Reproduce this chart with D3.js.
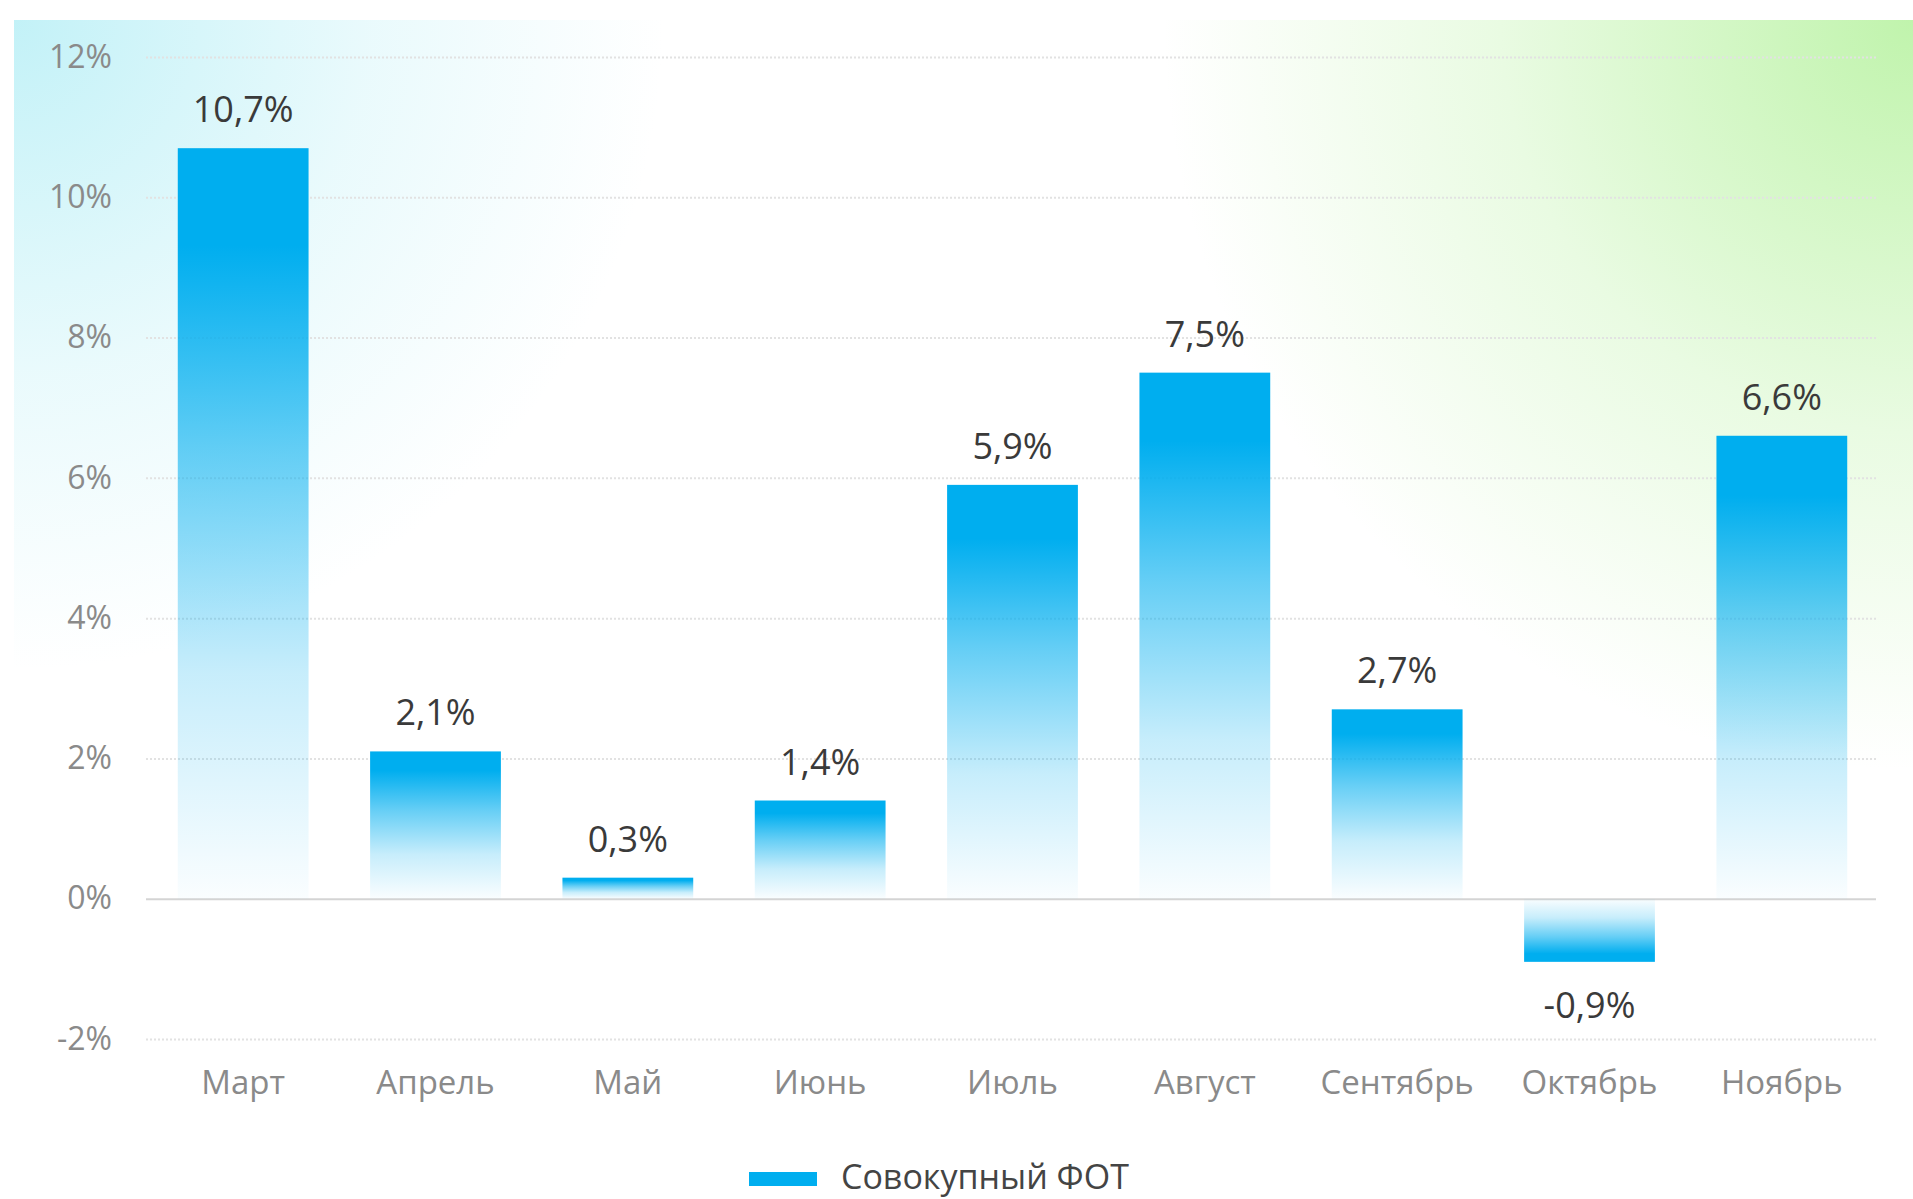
<!DOCTYPE html>
<html>
<head>
<meta charset="utf-8">
<script src="https://cdn.jsdelivr.net/npm/d3@7"></script>
<style>
  body { margin: 0; background: #fff; }
  svg { display: block; font-family: "Open Sans", sans-serif; }
</style>
</head>
<body>
<svg id="chart" width="1913" height="1199"></svg>
<script>
"use strict";

const months = ["Март", "Апрель", "Май", "Июнь", "Июль", "Август", "Сентябрь", "Октябрь", "Ноябрь"];
const values = [10.7, 2.1, 0.3, 1.4, 5.9, 7.5, 2.7, -0.9, 6.6];
const yTicks = [-2, 0, 2, 4, 6, 8, 10, 12];
const seriesName = "Совокупный ФОТ";

const blue = "#00aeef";
const svg = d3.select("#chart");
const defs = svg.append("defs");

// soft background tints (cyan top-left, green top-right)
function radial(id, cx, cy, r, color, op) {
  let g = defs.append("radialGradient").attr("id", id)
    .attr("gradientUnits", "userSpaceOnUse")
    .attr("cx", cx).attr("cy", cy).attr("r", r);
  g.append("stop").attr("offset", 0).attr("stop-color", color).attr("stop-opacity", op);
  g.append("stop").attr("offset", 0.55).attr("stop-color", color).attr("stop-opacity", op * 0.35);
  g.append("stop").attr("offset", 1).attr("stop-color", color).attr("stop-opacity", 0);
}
radial("bgCyan", 14, 20, 650, "#b8eff6", 0.85);
radial("bgGreen", 1913, 20, 750, "#bdf3a8", 0.95);

let bg = svg.append("g");
bg.append("rect").attr("x", 14).attr("y", 20).attr("width", 1899).attr("height", 1179)
  .attr("fill", "url(#bgCyan)");
bg.append("rect").attr("x", 14).attr("y", 20).attr("width", 1899).attr("height", 1179)
  .attr("fill", "url(#bgGreen)");

// bar gradients: solid at the value end, fading toward zero
function barGrad(id, up) {
  let g = defs.append("linearGradient").attr("id", id)
    .attr("x1", 0).attr("x2", 0)
    .attr("y1", up ? 0 : 1).attr("y2", up ? 1 : 0);
  [[0, 1], [0.13, 1], [0.4, 0.6], [0.7, 0.22], [1, 0.02]].forEach(s => {
    g.append("stop").attr("offset", s[0]).attr("stop-color", blue).attr("stop-opacity", s[1]);
  });
}
barGrad("barUp", true);
barGrad("barDown", false);

const x = d3.scaleBand().domain(months).range([147, 1878]).paddingInner(0.32).paddingOuter(0.16);
const y = d3.scaleLinear().domain([-2, 12]).range([1039, 57]);

// grid + y labels
let yAxis = svg.append("g")
  .attr("transform", "translate(146,0)")
  .call(d3.axisLeft(y).tickValues(yTicks).tickSize(-1730).tickPadding(34).tickFormat(d => d + "%"));
yAxis.select(".domain").remove();
yAxis.selectAll(".tick line")
  .attr("stroke", d => d === 0 ? "#d4d4d4" : "#e2e2e2")
  .attr("stroke-width", 2)
  .attr("stroke-dasharray", d => d === 0 ? null : "2,2");
yAxis.selectAll(".tick text")
  .attr("fill", "#8a8a8a").attr("font-size", 32).attr("font-family", "Open Sans, sans-serif");

// bars
svg.append("g").selectAll("rect")
  .data(values)
  .enter()
  .append("rect")
  .attr("x", (d, i) => x(months[i]))
  .attr("width", x.bandwidth())
  .attr("y", d => y(Math.max(0, d)))
  .attr("height", d => Math.abs(y(d) - y(0)))
  .attr("fill", d => d >= 0 ? "url(#barUp)" : "url(#barDown)");

// value labels
svg.append("g").selectAll("text")
  .data(values)
  .enter()
  .append("text")
  .attr("x", (d, i) => x(months[i]) + x.bandwidth() / 2)
  .attr("y", d => d >= 0 ? y(d) - 26 : y(d) + 56)
  .attr("text-anchor", "middle")
  .attr("fill", "#3a3a3a")
  .attr("font-size", 36)
  .text(d => String(d).replace(".", ",") + "%");

// month labels
let xAxis = svg.append("g")
  .attr("transform", "translate(0,1094)")
  .call(d3.axisBottom(x).tickSize(0).tickPadding(0));
xAxis.select(".domain").remove();
xAxis.selectAll(".tick text")
  .attr("dy", 0)
  .attr("fill", "#8a8a8a").attr("font-size", 33).attr("font-family", "Open Sans, sans-serif");

// legend
let legend = svg.append("g");
legend.append("rect").attr("x", 749).attr("y", 1172).attr("width", 68).attr("height", 14).attr("fill", blue);
legend.append("text").attr("x", 841).attr("y", 1189)
  .attr("fill", "#444").attr("font-size", 34).text(seriesName);
</script>
</body>
</html>
